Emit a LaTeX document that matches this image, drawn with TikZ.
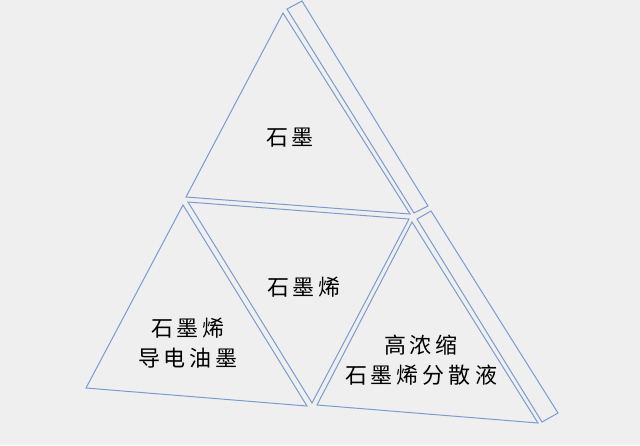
\documentclass[tikz,border=0pt]{standalone}
\usepackage{fontspec}
\setmainfont{Noto Sans CJK SC}
\newcommand\gp{\hspace{4pt}}
\definecolor{bgc}{RGB}{239,239,239}
\definecolor{edge}{RGB}{125,155,205}
\begin{document}
\begin{tikzpicture}[x=1pt,y=-1pt,
  tri/.style={draw=edge,line width=1pt,line join=miter},
  lbl/.style={align=center,font=\fontsize{22pt}{30pt}\selectfont,text=black,inner sep=0pt}]
\fill[bgc] (0,0) rectangle (640,445);
\useasboundingbox (0,0) rectangle (640,445);
% top triangle
\draw[tri] (283,13) -- (186,197) -- (410,214) -- cycle;
% middle inverted triangle
\draw[tri] (188,202) -- (409,219) -- (312,403) -- cycle;
% left triangle
\draw[tri] (183,205) -- (86,388) -- (307,406) -- cycle;
% right triangle
\draw[tri] (412,222) -- (317,405) -- (538,423) -- cycle;
% strip, upper part
\draw[tri] (287,9) -- (302,1) -- (428,206) -- (414,213) -- cycle;
% strip, lower part
\draw[tri] (417,219) -- (431,211) -- (558,413) -- (542,422) -- cycle;
% labels
\node[lbl] (graphite) at (290,138) {石\gp 墨};
\node[lbl] (graphene) at (304,287) {石\gp 墨\gp 烯};
\node[lbl] (ink) at (188,343) {石\gp 墨\gp 烯\\导\gp 电\gp 油\gp 墨};
\node[lbl] (disp) at (421,360) {高\gp 浓\gp 缩\\石\gp 墨\gp 烯\gp 分\gp 散\gp 液};
\end{tikzpicture}
\end{document}
